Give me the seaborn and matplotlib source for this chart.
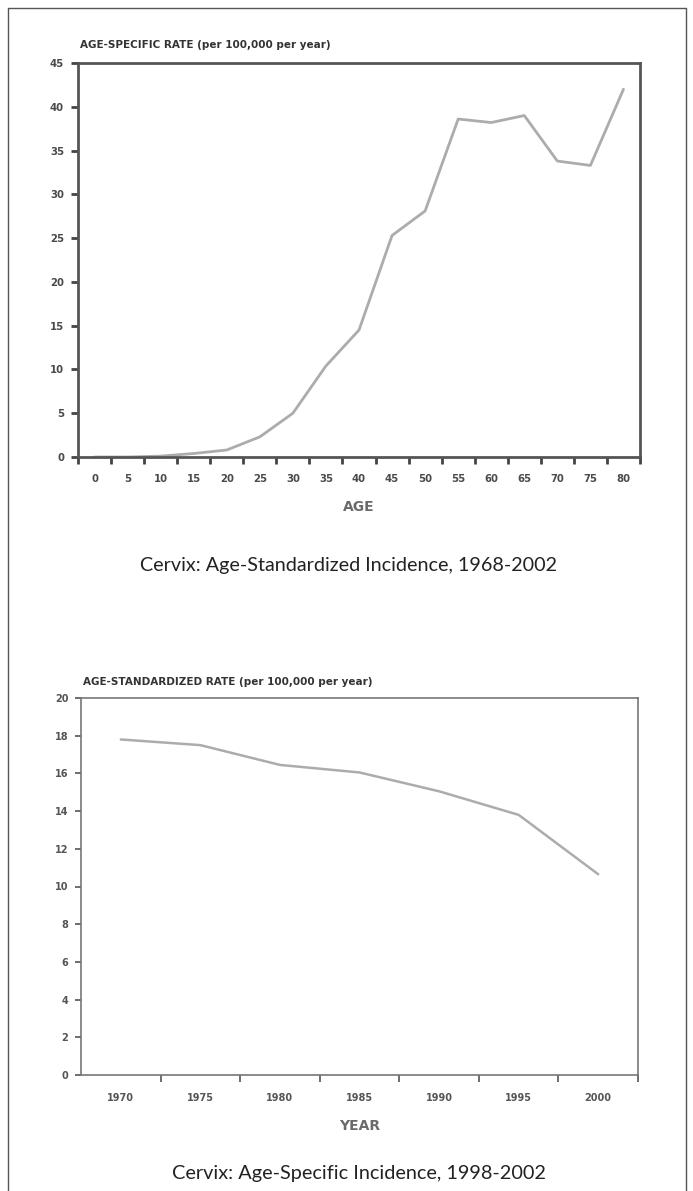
import matplotlib
matplotlib.use("Agg")
import matplotlib.pyplot as plt
import seaborn as sns
import numpy as np
import pandas as pd
from matplotlib.lines import Line2D

# ---- data ----
ages = [0, 5, 10, 15, 20, 25, 30, 35, 40, 45, 50, 55, 60, 65, 70, 75, 80]
age_rates = [0.0, 0.0, 0.1, 0.4, 0.8, 2.3, 5.0, 10.4, 14.5, 25.3, 28.1, 38.6, 38.2, 39.0, 33.8, 33.3, 42.0]
age_yticks = [0, 5, 10, 15, 20, 25, 30, 35, 40, 45]

years = [1970, 1975, 1980, 1985, 1990, 1995, 2000]
year_rates = [17.8, 17.5, 16.45, 16.05, 15.05, 13.8, 10.65]
year_yticks = [0, 2, 4, 6, 8, 10, 12, 14, 16, 18, 20]

title1 = "AGE-SPECIFIC RATE (per 100,000 per year)"
title2 = "AGE-STANDARDIZED RATE (per 100,000 per year)"
caption1 = "Cervix: Age-Standardized Incidence, 1968-2002"
caption2 = "Cervix: Age-Specific Incidence, 1998-2002"

sns.set_style("white")
plt.rcParams['font.family'] = ['DejaVu Sans']

W, H = 693, 1191
fig = plt.figure(figsize=(W / 100, H / 100), dpi=100)
fig.patch.set_facecolor("white")
renderer = fig.canvas.get_renderer()

def fx(px):
    return px / W

def fy(py):
    return 1 - py / H

def fit_text(txt, target_w):
    w = txt.get_window_extent(renderer).width
    txt.set_fontsize(txt.get_fontsize() * target_w / w)

# outer border
for (x0, y0, x1, y1) in [(8, 8, 686, 8), (8, 8, 8, 1195), (686, 8, 686, 1195)]:
    fig.add_artist(Line2D([fx(x0), fx(x1)], [fy(y0), fy(y1)], color="#555555", lw=1.0))

LINE_COL = "#acacac"

# ---------- chart 1 ----------
l, r, t, b = 78, 640, 63, 457
ax1 = fig.add_axes([fx(l), fy(b), fx(r - l), (b - t) / H])
df1 = pd.DataFrame({"age": ages, "rate": age_rates})
sns.lineplot(data=df1, x="age", y="rate", ax=ax1, color=LINE_COL, lw=2.0)
ax1.set_xlim(-2.5, 82.5)
ax1.set_ylim(0, 45)
ax1.set_xticks([a - 2.5 for a in ages] + [82.5])
ax1.set_xticklabels([])
ax1.set_xticks(ages, minor=True)
ax1.set_xticklabels([str(a) for a in ages], minor=True)
ax1.set_yticks(age_yticks)
ax1.set_yticklabels([str(v) for v in age_yticks])
ax1.tick_params(axis="x", which="major", direction="out", length=5, width=2, color="#444444", bottom=True)
ax1.tick_params(axis="x", which="minor", length=0, pad=12, labelsize=7.3, labelcolor="#4a4a4a")
ax1.tick_params(axis="y", direction="out", length=5, width=2, color="#444444", left=True,
                labelsize=7.3, labelcolor="#4a4a4a", pad=5)
for lab in ax1.get_xticklabels(minor=True) + ax1.get_yticklabels():
    lab.set_fontweight("bold")
for s in ax1.spines.values():
    s.set_color("#555555")
    s.set_linewidth(2.0)
ax1.set_xlabel("AGE", fontsize=10, color="#6a6a6a", fontweight="bold", va="center")
ax1.xaxis.set_label_coords(0.5, -50 / (b - t))
ax1.set_ylabel("")
ax1.grid(False)
fig.text(fx(l + 2), fy(45), title1, fontsize=7.5, fontweight="bold", color="#333333", va="center", ha="left")
c1 = fig.text(fx(348), fy(571), caption1, fontsize=13, color="#222222", ha="center", va="baseline",
              family=["Lato", "DejaVu Sans"])
fit_text(c1, 415)

# ---------- chart 2 ----------
l2, r2, t2, b2 = 81, 638, 698, 1075
ax2 = fig.add_axes([fx(l2), fy(b2), fx(r2 - l2), (b2 - t2) / H])
df2 = pd.DataFrame({"year": years, "rate": year_rates})
sns.lineplot(data=df2, x="year", y="rate", ax=ax2, color=LINE_COL, lw=1.8)
ax2.set_xlim(1967.5, 2002.5)
ax2.set_ylim(0, 20)
ax2.set_xticks([y + 2.5 for y in years])
ax2.set_xticklabels([])
ax2.set_xticks(years, minor=True)
ax2.set_xticklabels([str(y) for y in years], minor=True)
ax2.set_yticks(year_yticks)
ax2.set_yticklabels([str(v) for v in year_yticks])
ax2.tick_params(axis="x", which="major", direction="out", length=5, width=1.2, color="#555555", bottom=True)
ax2.tick_params(axis="x", which="minor", length=0, pad=13, labelsize=7, labelcolor="#555555")
ax2.tick_params(axis="y", direction="out", length=4, width=1.2, color="#555555", left=True,
                labelsize=7, labelcolor="#555555", pad=5)
for lab in ax2.get_xticklabels(minor=True) + ax2.get_yticklabels():
    lab.set_fontweight("bold")
for s in ax2.spines.values():
    s.set_color("#777777")
    s.set_linewidth(1.2)
ax2.set_xlabel("YEAR", fontsize=10, color="#6a6a6a", fontweight="bold", va="center")
ax2.xaxis.set_label_coords(0.5, -51 / (b2 - t2))
ax2.set_ylabel("")
ax2.grid(False)
fig.text(fx(l2 + 2), fy(682), title2, fontsize=7.5, fontweight="bold", color="#333333", va="center", ha="left")
c2 = fig.text(fx(359), fy(1179), caption2, fontsize=13, color="#222222", ha="center", va="baseline",
              family=["Lato", "DejaVu Sans"])
fit_text(c2, 372)

fig.savefig("out.png", dpi=100, facecolor="white")
